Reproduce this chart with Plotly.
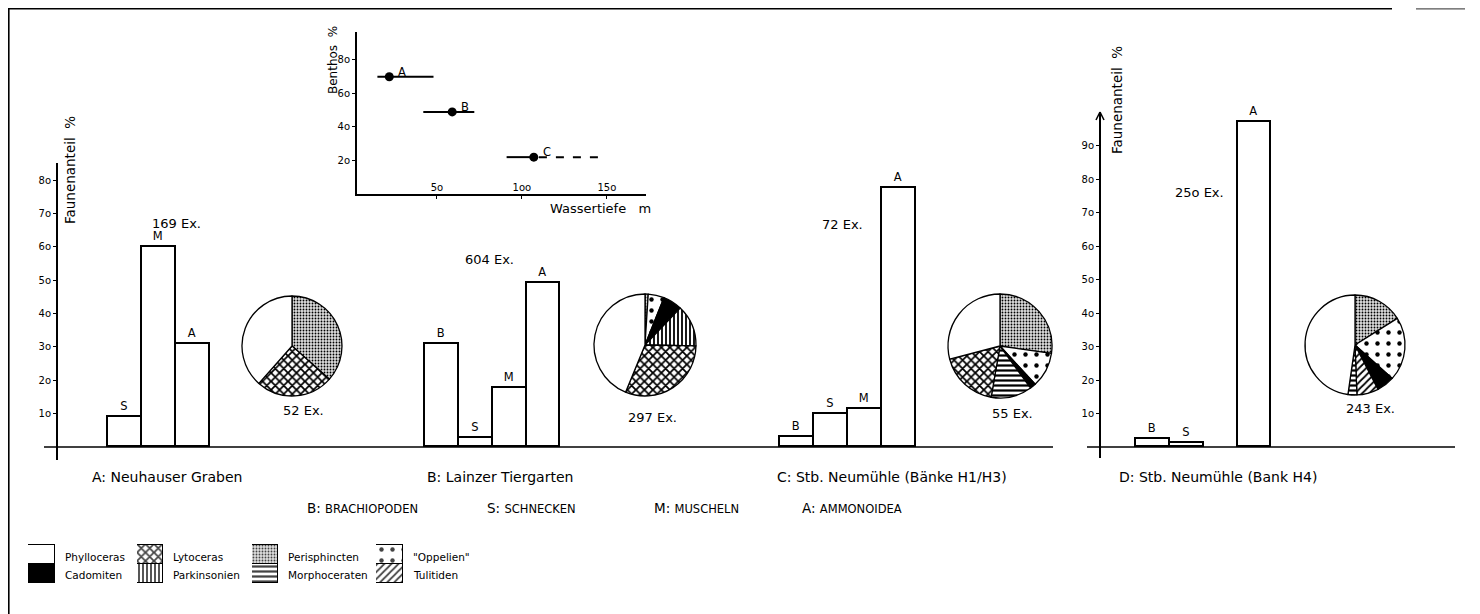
import plotly.graph_objects as go

# page body has an 8px margin: the figure is placed at (8, 8) of the window
OFF = 8
W, H = 1480 - OFF, 614 - OFF
def px(x): return (x - OFF) / W
def py(y): return 1 - (y - OFF) / H

FONT = "DejaVu Sans"

# ---------------- data ----------------
groups = ["B", "S", "M", "A"]
pct_neuhaus = [None, 9, 60, 31]
pct_lainz = [31, 2.7, 17.7, 49]
pct_neum_h1h3 = [3, 10, 11.3, 77.5]
pct_neum_h4 = [2.4, 1.2, None, 97]
n_bars = ["169 Ex.", "604 Ex.", "72 Ex.", "25o Ex."]

pie_A_labels = ["Perisphincten", "Lytoceras", "Phylloceras"]
pie_A_values = [19, 13, 20]
pie_B_labels = ["Perisphincten", "Oppelien", "Cadomiten", "Parkinsonien", "Lytoceras", "Phylloceras"]
pie_B_values = [3, 15, 18, 39, 92, 130]
pie_C_labels = ["Perisphincten", "Oppelien", "Cadomiten", "Morphoceraten", "Lytoceras", "Phylloceras"]
pie_C_values = [15, 6, 1, 7, 10, 16]
pie_D_labels = ["Perisphincten", "Oppelien", "Cadomiten", "Tulitiden", "Morphoceraten", "Phylloceras"]
pie_D_values = [39, 50, 14, 17, 7, 116]
n_pies = ["52 Ex.", "297 Ex.", "55 Ex.", "243 Ex."]

sites = ["A", "B", "C"]
depth = [22, 59, 107]
benthos = [70, 49, 22]
depth_lo = [15, 42, 91]
depth_hi = [48, 72, 107]
depth_c_dashed = [110, 146]

legend_top = ["Phylloceras", "Lytoceras", "Perisphincten", "Oppelien"]
legend_bottom = ["Cadomiten", "Parkinsonien", "Morphoceraten", "Tulitiden"]
legend_top_text = ["Phylloceras", "Lytoceras", "Perisphincten", "\"Oppelien\""]

group_names = [("B", "BRACHIOPODEN"), ("S", "SCHNECKEN"), ("M", "MUSCHELN"), ("A", "AMMONOIDEA")]
site_names = ["A: Neuhauser Graben", "B: Lainzer Tiergarten",
              "C: Stb. Neumühle (Bänke H1/H3)", "D: Stb. Neumühle (Bank H4)"]

# ---------------- styles ----------------
STYLE = {
    "Phylloceras":   dict(bg="white",   shape="",  size=8,  sol=0.3),
    "Cadomiten":     dict(bg="black",   shape="",  size=8,  sol=0.3),
    "Lytoceras":     dict(bg="white",   shape="x", size=6,  sol=0.5),
    "Parkinsonien":  dict(bg="white",   shape="|", size=4,  sol=0.45),
    "Perisphincten": dict(bg="#dedede", shape=".", size=3,  sol=0.3),
    "Morphoceraten": dict(bg="white",   shape="-", size=5,  sol=0.45),
    "Oppelien":      dict(bg="white",   shape=".", size=11, sol=0.13),
    "Tulitiden":     dict(bg="white",   shape="/", size=5,  sol=0.35),
}

def pattern_for(names):
    return dict(
        shape=[STYLE[n]["shape"] for n in names],
        size=[STYLE[n]["size"] for n in names],
        solidity=[STYLE[n]["sol"] for n in names],
        fgcolor="black", fgopacity=1,
        bgcolor=[STYLE[n]["bg"] for n in names],
        fillmode="overlay",
    )

fig = go.Figure()

# ---------------- bar panels ----------------
panels = [
    (pct_neuhaus, "x", "y", (74, 210)),
    (pct_lainz, "x2", "y", (425, 560)),
    (pct_neum_h1h3, "x3", "y", (780, 916)),
    (pct_neum_h4, "x4", "y2", (1136, 1271)),
]
for vals, xa, ya, _ in panels:
    fig.add_trace(go.Bar(
        x=groups, y=vals, xaxis=xa, yaxis=ya, width=1,
        marker=dict(color="white", line=dict(color="black", width=1.6)),
        text=[g if v else "" for g, v in zip(groups, vals)],
        textposition="outside", cliponaxis=False,
        textfont=dict(family=FONT, size=11.5, color="black"),
        showlegend=False, hoverinfo="skip",
    ))

# ---------------- pies ----------------
pies = [
    (pie_A_labels, pie_A_values, (292, 346, 50)),
    (pie_B_labels, pie_B_values, (645, 345, 51)),
    (pie_C_labels, pie_C_values, (1000, 346, 52)),
    (pie_D_labels, pie_D_values, (1355, 345, 50)),
]
for labels, values, (cx, cy, r) in pies:
    fig.add_trace(go.Pie(
        labels=labels, values=values, sort=False, direction="clockwise", rotation=0,
        textinfo="none", hoverinfo="label+value",
        marker=dict(colors=[STYLE[n]["bg"] for n in labels],
                    line=dict(color="black", width=1.3),
                    pattern=pattern_for(labels)),
        domain=dict(x=[px(cx - r), px(cx + r)], y=[py(cy + r), py(cy - r)]),
        showlegend=False,
    ))

# ---------------- inset: Benthos vs Wassertiefe ----------------
for i, s in enumerate(sites):
    fig.add_trace(go.Scatter(
        x=[depth_lo[i], depth_hi[i]], y=[benthos[i], benthos[i]],
        mode="lines", line=dict(color="black", width=2),
        xaxis="x5", yaxis="y3", showlegend=False, hoverinfo="skip"))
fig.add_trace(go.Scatter(
    x=depth_c_dashed, y=[benthos[2], benthos[2]], mode="lines",
    line=dict(color="black", width=2, dash="8px,9px"),
    xaxis="x5", yaxis="y3", showlegend=False, hoverinfo="skip"))
fig.add_trace(go.Scatter(
    x=depth, y=benthos, mode="markers",
    marker=dict(color="black", size=9),
    xaxis="x5", yaxis="y3", showlegend=False, text=sites))

# ---------------- legend swatches (one small axis per swatch) ----------------
swatch_x = [(28, 55), (137, 163), (252, 278), (376, 403)]
legend_axes = ["x6", "x7", "x8", "x9"]
for k in range(4):
    for fam in (legend_bottom[k], legend_top[k]):
        fig.add_trace(go.Bar(
            x=[0], y=[1], width=1, xaxis=legend_axes[k], yaxis="y4",
            marker=dict(color=[STYLE[fam]["bg"]], line=dict(color="black", width=1.4),
                        pattern=pattern_for([fam])),
            showlegend=False, hoverinfo="skip", cliponaxis=False, name=fam))

# ---------------- axes ----------------
hidden_x = dict(showline=False, showticklabels=False, ticks="", showgrid=False,
                zeroline=False, type="category", categoryorder="array",
                categoryarray=groups, range=[-0.6, 3.6])
tickfont = dict(family=FONT, size=10, color="black")

layout_axes = {}
for k, (vals, xa, ya, (x0, x1)) in enumerate(panels):
    name = "xaxis" if xa == "x" else "xaxis" + xa[1:]
    slot = (x1 - x0) / 4.0
    layout_axes[name] = dict(hidden_x, domain=[px(x0 - 0.1 * slot), px(x1 + 0.1 * slot)], anchor=ya)

layout_axes["yaxis"] = dict(
    domain=[py(460), py(163)], range=[-3.9, 85.1], anchor="free", position=px(57),
    showline=True, linecolor="black", linewidth=2, showgrid=False, zeroline=False,
    tickvals=[10, 20, 30, 40, 50, 60, 70, 80],
    ticktext=["1o", "2o", "3o", "4o", "5o", "6o", "7o", "8o"],
    ticks="outside", ticklen=3, tickcolor="black", tickfont=tickfont)
layout_axes["yaxis2"] = dict(
    domain=[py(458), py(112)], range=[-3.28, 100], anchor="free", position=px(1100),
    showline=True, linecolor="black", linewidth=2, showgrid=False, zeroline=False,
    tickvals=[10, 20, 30, 40, 50, 60, 70, 80, 90],
    ticktext=["1o", "2o", "3o", "4o", "5o", "6o", "7o", "8o", "9o"],
    ticks="outside", ticklen=3, tickcolor="black", tickfont=tickfont)
layout_axes["xaxis5"] = dict(
    domain=[px(357), px(646)], range=[3, 173], anchor="y3",
    showline=True, linecolor="black", linewidth=2, showgrid=False, zeroline=False,
    tickvals=[50, 100, 150], ticktext=["5o", "1oo", "15o"],
    ticklabelposition="inside", ticks="outside", ticklen=3, tickcolor="black",
    tickfont=tickfont)
layout_axes["yaxis3"] = dict(
    domain=[py(194), py(32)], range=[0, 96.7], anchor="x5",
    showline=True, linecolor="black", linewidth=2, showgrid=False, zeroline=False,
    tickvals=[20, 40, 60, 80], ticktext=["2o", "4o", "6o", "8o"],
    ticks="outside", ticklen=3, tickcolor="black", tickfont=tickfont)
for k, (x0, x1) in enumerate(swatch_x):
    layout_axes["xaxis" + str(6 + k)] = dict(domain=[px(x0), px(x1)], range=[-0.5, 0.5],
                                           anchor="y4", visible=False)
layout_axes["yaxis4"] = dict(domain=[py(584), py(544)], range=[-0.05, 2.05],
                             anchor="x6", visible=False)

# ---------------- shapes ----------------
line = dict(color="black", width=1.6)
shapes = [
    dict(type="line", xref="paper", yref="paper", x0=px(8.8), x1=px(8.8), y0=1, y1=0, line=line),
    dict(type="line", xref="paper", yref="paper", x0=px(8), x1=px(1392), y0=py(8.8), y1=py(8.8), line=line),
    dict(type="line", xref="paper", yref="paper", x0=px(1416), x1=px(1465), y0=py(8.8), y1=py(8.8),
         line=dict(color="#555", width=1.2)),
    dict(type="line", xref="paper", yref="y", x0=px(44), x1=px(1053), y0=0, y1=0, line=line),
    dict(type="line", xref="paper", yref="y2", x0=px(1087), x1=px(1455), y0=0, y1=0, line=line),
    dict(type="line", xref="paper", yref="paper", x0=px(1100), x1=px(1096), y0=py(112), y1=py(120), line=line),
    dict(type="line", xref="paper", yref="paper", x0=px(1100), x1=px(1104), y0=py(112), y1=py(120), line=line),
]

# ---------------- annotations ----------------
ann = []
def txt(x, y, s, size=12, anchor="center", angle=0):
    ann.append(dict(x=px(x), y=py(y), xref="paper", yref="paper", text=s, showarrow=False,
                    xanchor=anchor, yanchor="middle", textangle=angle, align="left",
                    font=dict(family=FONT, size=size, color="black")))

for (x, y), s in zip([(176, 223), (489, 259), (843, 224), (1199, 192)], n_bars):
    txt(x, y, s, 13)
for (x, y), s in zip([(303, 410), (652, 417), (1012, 413), (1370, 408)], n_pies):
    txt(x, y, s, 13)
for x, s in zip([90, 425, 775, 1117], site_names):
    txt(x, 477, s, 14, anchor="left")
for x, (g, nm) in zip([305, 485, 652, 800], group_names):
    txt(x, 508, f"{g}: <span style='font-size:11.5px'>{nm}</span>", 13.5, anchor="left")
for k in range(4):
    x = swatch_x[k][1] + 8
    txt(x, 557, legend_top_text[k], 10.5, anchor="left")
    txt(x, 575, legend_bottom[k], 10.5, anchor="left")

txt(70, 170, "Faunenanteil  %", 13.5, angle=-90)
txt(1117, 100, "Faunenanteil  %", 13.5, angle=-90)
txt(333, 60, "Benthos  %", 12, angle=-90)
txt(548, 208, "Wassertiefe &nbsp;&nbsp;m", 13, anchor="left")

for i, s in enumerate(sites):
    ann.append(dict(x=depth[i], y=benthos[i], xref="x5", yref="y3", text=s, showarrow=False,
                    xshift=13, yshift=5, font=dict(family=FONT, size=11.5, color="black")))

fig.update_layout(
    width=W, height=H, autosize=False,
    margin=dict(l=0, r=0, t=0, b=0),
    paper_bgcolor="white", plot_bgcolor="rgba(0,0,0,0)",
    barmode="stack", bargap=0,
    shapes=shapes, annotations=ann,
    font=dict(family=FONT, color="black"),
    **layout_axes,
)

fig.write_html("out.html")
